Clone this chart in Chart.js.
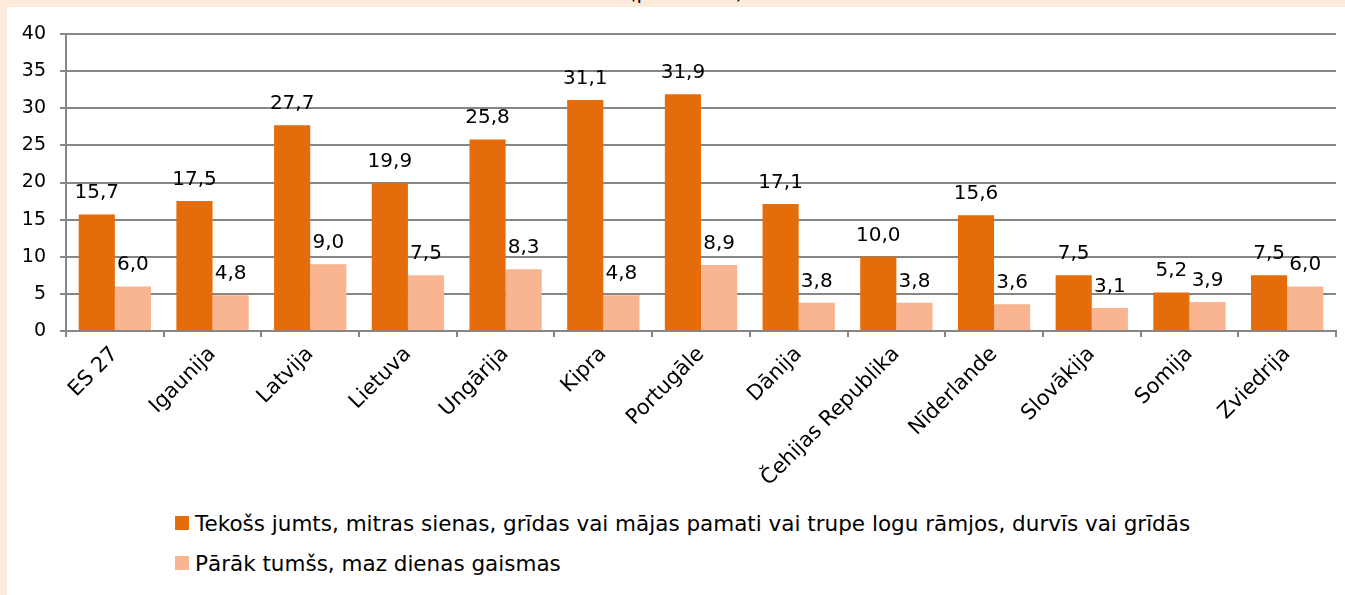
<!DOCTYPE html>
<html>
<head>
<meta charset="utf-8">
<script src="https://cdn.jsdelivr.net/npm/chart.js@4/dist/chart.umd.min.js"></script>
<style>
  html, body { margin: 0; padding: 0; overflow: hidden; background: #fff; width: 100%; height: 100%; }
  body { position: relative; font-family: "DejaVu Sans", Verdana, sans-serif; }
  .strip { position: absolute; background: #FDEADA; }
  #top { left: 0; top: 0; right: 0; height: 7px; }
  #left { left: 0; top: 0; bottom: 0; width: 7px; }
  #title { position: absolute; top: -20px; left: 586px; width: 200px; text-align: center; font-size: 20px; line-height: 24px; color: #000; }
  #wrap { position: absolute; left: 7px; top: 7px; width: 1338px; height: 480px; }
  #legend { position: absolute; left: 175px; top: 503px; font-size: 21.5px; color: #000; white-space: nowrap; }
  #legend div { display: flex; align-items: center; height: 40px; }
  #legend span.box { display: inline-block; width: 14px; height: 14px; margin-right: 6px; }
</style>
</head>
<body>
<div class="strip" id="top"></div>
<div class="strip" id="left"></div>
<div id="title">(procentos)</div>
<div id="wrap"><canvas id="c"></canvas></div>
<div id="legend"></div>
<script>
const countries = ['ES 27', 'Igaunija', 'Latvija', 'Lietuva', 'Ungārija', 'Kipra', 'Portugāle', 'Dānija', 'Čehijas Republika', 'Nīderlande', 'Slovākija', 'Somija', 'Zviedrija'];
const leaking = [15.7, 17.5, 27.7, 19.9, 25.8, 31.1, 31.9, 17.1, 10.0, 15.6, 7.5, 5.2, 7.5];
const tooDark = [6.0, 4.8, 9.0, 7.5, 8.3, 4.8, 8.9, 3.8, 3.8, 3.6, 3.1, 3.9, 6.0];
const seriesNames = ['Tekošs jumts, mitras sienas, grīdas vai mājas pamati vai trupe logu rāmjos, durvīs vai grīdās', 'Pārāk tumšs, maz dienas gaismas'];
const yTicks = [0, 5, 10, 15, 20, 25, 30, 35, 40];

const font = 'DejaVu Sans';

// value labels above bars, comma decimal
const valueLabels = {
  id: 'valueLabels',
  afterDatasetsDraw(chart) {
    const ctx = chart.ctx;
    ctx.save();
    ctx.font = '20px "' + font + '"';
    ctx.fillStyle = '#000';
    ctx.textAlign = 'center';
    ctx.textBaseline = 'alphabetic';
    chart.data.datasets.forEach((ds, i) => {
      chart.getDatasetMeta(i).data.forEach((bar, j) => {
        ctx.fillText(ds.data[j].toFixed(1).replace('.', ','), bar.x, bar.y - 16);
      });
    });
    ctx.restore();
  }
};

const chart = new Chart(document.getElementById('c'), {
  type: 'bar',
  data: {
    labels: countries,
    datasets: [
      { label: seriesNames[0], data: leaking, backgroundColor: '#E46C0A' },
      { label: seriesNames[1], data: tooDark, backgroundColor: '#F9B592' }
    ]
  },
  options: {
    responsive: true,
    maintainAspectRatio: false,
    animation: false,
    layout: { padding: { left: 0, right: 9, top: 27, bottom: 0 } },
    categoryPercentage: 0.74,
    barPercentage: 1,
    plugins: { legend: { display: false }, tooltip: { enabled: false } },
    scales: {
      x: {
        grid: { display: true, drawOnChartArea: false, drawTicks: true, tickLength: 6, color: '#868686', lineWidth: 2 },
        border: { color: '#868686', width: 2 },
        ticks: { color: '#000', font: { family: font, size: 21 }, minRotation: 45, maxRotation: 45, padding: 5 },
        afterFit(s) { s.height = 156; }
      },
      y: {
        min: 0, max: 40,
        afterBuildTicks(s) { s.ticks = yTicks.map(v => ({ value: v })); },
        grid: { color: '#868686', lineWidth: 2, drawTicks: true, tickLength: 6 },
        border: { color: '#868686', width: 2 },
        ticks: { color: '#000', font: { family: font, size: 19 }, padding: 14 },
        afterFit(s) { s.width = 59; }
      }
    }
  },
  plugins: [valueLabels]
});

// legend built from the chart datasets
const leg = document.getElementById('legend');
chart.data.datasets.forEach(ds => {
  const row = document.createElement('div');
  const box = document.createElement('span');
  box.className = 'box';
  box.style.background = ds.backgroundColor;
  row.appendChild(box);
  row.appendChild(document.createTextNode(ds.label));
  leg.appendChild(row);
});
</script>
</body>
</html>
